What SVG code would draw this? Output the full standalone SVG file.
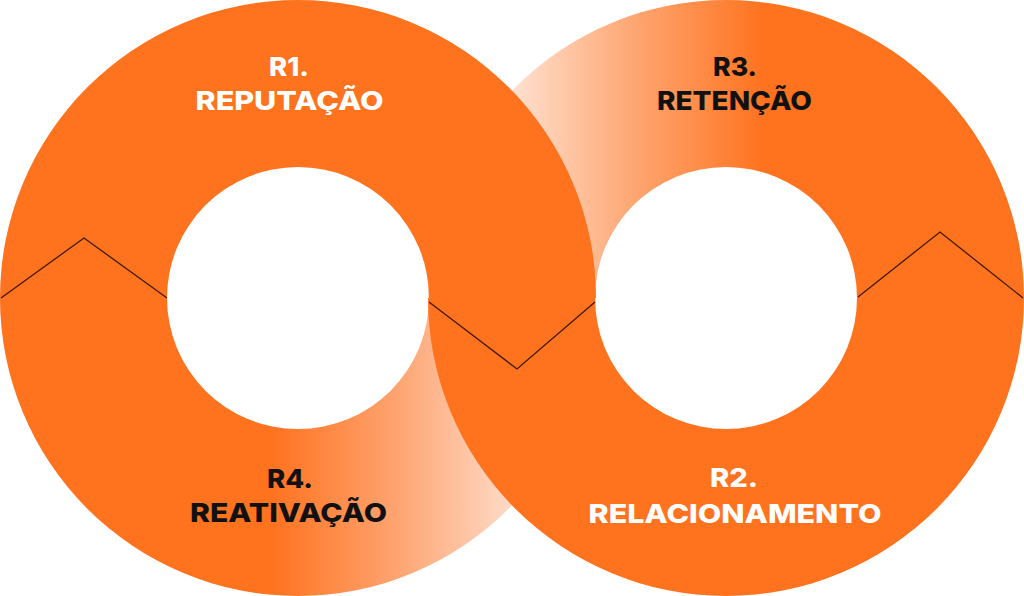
<svg xmlns="http://www.w3.org/2000/svg" width="1024" height="596" viewBox="0 0 1024 596">
  <defs>
    <linearGradient id="gR3" gradientUnits="userSpaceOnUse" x1="512" y1="0" x2="765" y2="0">
      <stop offset="0" stop-color="#FFE1D0"/>
      <stop offset="0.5" stop-color="#FEA46E"/>
      <stop offset="1" stop-color="#FF721E"/>
    </linearGradient>
    <linearGradient id="gR4" gradientUnits="userSpaceOnUse" x1="270" y1="0" x2="515" y2="0">
      <stop offset="0" stop-color="#FF721E"/>
      <stop offset="0.5" stop-color="#FEA26E"/>
      <stop offset="1" stop-color="#FEDCC9"/>
    </linearGradient>
    <style>
      .solid { fill: #FF721E; }
      .lbl { font-family: "Inter", "Liberation Sans", sans-serif; font-weight: 800; font-size: 26px; text-anchor: middle; }
      .white { fill: #FFFFFF; }
      .dark { fill: #111111; }
      .zig { fill: none; stroke: #3F1A06; stroke-width: 1.3; stroke-linejoin: miter; }
    </style>
  </defs>

  <g id="r3">
    <path d="M428,298 A298,298 0 0 1 1024,298 L857,298 A131,131 0 0 0 595,298 Z" fill="url(#gR3)"/>
    <text class="lbl dark" x="735" y="76" textLength="44" lengthAdjust="spacingAndGlyphs">R3.</text>
    <text class="lbl dark" x="734.5" y="110" textLength="155" lengthAdjust="spacingAndGlyphs">RETENÇÃO</text>
  </g>

  <g id="r4">
    <path d="M0,298 A298,298 0 0 0 596,298 L429,298 A131,131 0 0 1 167,298 Z" fill="url(#gR4)"/>
    <text class="lbl dark" x="290" y="488" textLength="46" lengthAdjust="spacingAndGlyphs">R4.</text>
    <text class="lbl dark" x="288.5" y="522" textLength="197" lengthAdjust="spacingAndGlyphs">REATIVAÇÃO</text>
  </g>

  <g id="r1">
    <path class="solid" d="M0,298 A298,298 0 0 1 596,298 L429,298 A131,131 0 0 0 167,298 Z"/>
    <text class="lbl white" x="289" y="76" textLength="40" lengthAdjust="spacingAndGlyphs">R1.</text>
    <text class="lbl white" x="289.5" y="110" textLength="188" lengthAdjust="spacingAndGlyphs">REPUTAÇÃO</text>
  </g>

  <g id="r2">
    <path class="solid" d="M428,298 A298,298 0 0 0 1024,298 L857,298 A131,131 0 0 1 595,298 Z"/>
    <text class="lbl white" x="734" y="487" textLength="48" lengthAdjust="spacingAndGlyphs">R2.</text>
    <text class="lbl white" x="735" y="523" textLength="293" lengthAdjust="spacingAndGlyphs">RELACIONAMENTO</text>
  </g>

  <g id="connectors">
    <polyline class="zig" points="1,298 84,238 167,298"/>
    <polyline class="zig" points="429,302 517,369 595,302"/>
    <polyline class="zig" points="858,297 940,232 1023,298"/>
  </g>
</svg>
